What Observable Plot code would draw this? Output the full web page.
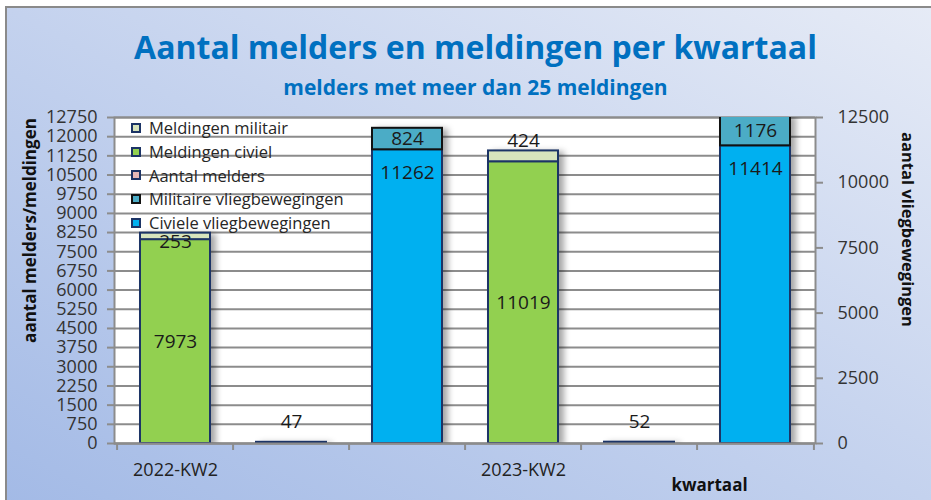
<!DOCTYPE html>
<html>
<head>
<meta charset="utf-8">
<script src="https://cdn.jsdelivr.net/npm/d3@7"></script>
<script src="https://cdn.jsdelivr.net/npm/@observablehq/plot@0.6"></script>
<style>
html, body { margin: 0; padding: 0; background: #fff; }
#page { position: relative; width: 931px; height: 500px; overflow: hidden; font-family: "Open Sans", sans-serif; }
#frame { position: absolute; left: 5px; top: 6px; right: -4px; bottom: -4px;
  border-top: 2px solid #8a8a8a; border-left: 2px solid #8a8a8a;
  background: linear-gradient(to top right, #a3bae6 0%, #c4d2ee 50%, #e6ebf6 100%); }
#title { position: absolute; left: 10px; width: 931px; top: 31px; text-align: center; margin: 0;
  font-size: 32px; line-height: 32px; font-weight: 700; color: #0070c0; }
#subtitle { position: absolute; left: 10px; width: 931px; top: 77px; text-align: center; margin: 0;
  font-size: 21px; line-height: 21px; font-weight: 700; color: #0070c0; }
#chart { position: absolute; left: 0; top: 100px; }
#legend { position: absolute; left: 131px; top: 116px; font-size: 16.5px; color: #262626; }
#legend .item { height: 23.75px; line-height: 23.75px; display: flex; align-items: center; white-space: nowrap; }
#legend .sw { width: 6px; height: 6px; border: 2px solid #1c3466; margin-right: 8px; flex: none; }
</style>
</head>
<body>
<div id="page">
  <div id="frame"></div>
  <h1 id="title">Aantal melders en meldingen per kwartaal</h1>
  <h2 id="subtitle">melders met meer dan 25 meldingen</h2>
  <div id="chart"></div>
  <div id="legend"></div>
</div>
<script>
// ---- data ----
const quarters = ["2022-KW2", "2023-KW2"];
const meldingenCiviel = [7973, 11019];
const meldingenMilitair = [253, 424];
const aantalMelders = [47, 52];
const civieleVlieg = [11262, 11414];
const militaireVlieg = [824, 1176];

const leftTicks = [0, 750, 1500, 2250, 3000, 3750, 4500, 5250, 6000, 6750, 7500, 8250, 9000, 9750, 10500, 11250, 12000, 12750];
const rightTicks = [0, 2500, 5000, 7500, 10000, 12500];

const seriesNames = ["Meldingen militair", "Meldingen civiel", "Aantal melders", "Militaire vliegbewegingen", "Civiele vliegbewegingen"];
const seriesColors = ["#d7e4bd", "#92d050", "#e6b9b8", "#4bacc6", "#00b0f0"];
const seriesStrokes = ["#1c3466", "#1c3466", "#1c3466", "#111111", "#1c3466"];

const leftMax = 12750, rightMax = 12500;
const k = leftMax / rightMax; // right axis -> left axis units

// ---- build table ----
const cats = [], catLabels = [], rows = [];
quarters.forEach((q, i) => {
  const stacks = [
    ["meldingen", [["Meldingen civiel", meldingenCiviel[i]], ["Meldingen militair", meldingenMilitair[i]]], 1],
    ["melders", [["Aantal melders", aantalMelders[i]]], 1],
    ["vliegbewegingen", [["Civiele vliegbewegingen", civieleVlieg[i]], ["Militaire vliegbewegingen", militaireVlieg[i]]], k]
  ];
  stacks.forEach(([g, segs, f], gi) => {
    const cat = q + " " + g;
    cats.push(cat);
    catLabels.push(gi === 0 ? q : "");
    let base = 0;
    segs.forEach(([s, v]) => {
      rows.push({cat, qi: i, series: s, value: v, y1: base * f, y2: (base + v) * f});
      base += v;
    });
  });
});

const W = 931, H = 400, mL = 114, mR = 116, mT = 17, mB = 57;
const step = (W - mL - mR) / cats.length;
const gray = "#8c8c8c";
const ink = "#1a1a1a";
const strokeOf = s => seriesStrokes[seriesNames.indexOf(s)];
const lbl = r => String(r.value);
const bySeries = s => rows.filter(r => r.series === s);
const titleOpts = {textAnchor: "middle", lineAnchor: "middle", fontWeight: "bold", fill: "#111"};

const plot = Plot.plot({
  width: W, height: H,
  marginLeft: mL, marginRight: mR, marginTop: mT, marginBottom: mB,
  style: {fontFamily: "'Open Sans', sans-serif", fontSize: "18px", background: "transparent", color: "#333", overflow: "visible"},
  x: {type: "band", domain: cats, paddingInner: 0.4, paddingOuter: 0.2, axis: null},
  y: {domain: [0, leftMax], axis: null},
  color: {domain: seriesNames, range: seriesColors},
  marks: [
    Plot.frame({fill: "white", stroke: gray, strokeWidth: 2}),
    Plot.gridY({ticks: leftTicks, stroke: gray, strokeOpacity: 1, strokeWidth: 2}),
    Plot.axisY({ticks: leftTicks, anchor: "left", tickSize: 7, tickPadding: 10, tickFormat: d => String(d), stroke: gray, strokeWidth: 2, fill: "#333", fontSize: 18, label: null}),
    Plot.axisY({ticks: rightTicks.map(v => v * k), anchor: "right", tickSize: 7, tickPadding: 15, tickFormat: d => String(Math.round(d / k)), stroke: gray, strokeWidth: 2, fill: "#333", fontSize: 18, label: null}),
    Plot.axisX({ticks: cats, anchor: "bottom", tickSize: 0, tickPadding: 20, tickFormat: c => catLabels[cats.indexOf(c)], fill: "#222", fontSize: 18, label: null}),
    Plot.ruleX(cats, {x: d => d, dx: -step / 2, insetTop: H - mT - mB, insetBottom: -7, stroke: gray, strokeWidth: 2}),
    Plot.ruleX(cats.slice(-1), {x: d => d, dx: step / 2, insetTop: H - mT - mB, insetBottom: -7, stroke: gray, strokeWidth: 2}),
    Plot.barY(rows, {x: "cat", y1: "y1", y2: "y2", fill: "series", stroke: r => strokeOf(r.series), strokeWidth: 2, clip: true}),
    Plot.ruleY([0], {stroke: gray, strokeWidth: 2}),
    // data labels
    Plot.text(rows.filter(r => r.series === "Meldingen civiel" || r.series === "Militaire vliegbewegingen"),
      {x: "cat", y: r => (r.y1 + r.y2) / 2, text: lbl, fontSize: 19, fill: ink}),
    Plot.text(bySeries("Civiele vliegbewegingen"), {x: "cat", y: "y2", dy: 23, text: lbl, fontSize: 19, fill: ink}),
    Plot.text(bySeries("Aantal melders"), {x: "cat", y: "y2", dy: -20, text: lbl, fontSize: 19, fill: ink}),
    Plot.text(bySeries("Meldingen militair").filter(r => r.qi === 0), {x: "cat", y: "y2", dy: 9, text: lbl, fontSize: 19, fill: ink}),
    Plot.text(bySeries("Meldingen militair").filter(r => r.qi === 1), {x: "cat", y: "y2", dy: -10, text: lbl, fontSize: 19, fill: ink}),
    // axis titles
    Plot.text(["aantal melders/meldingen"], {...titleOpts, frameAnchor: "top-left", dx: 30 - mL, dy: 130 - mT, rotate: -90, fontSize: 17}),
    Plot.text(["aantal vliegbewegingen"], {...titleOpts, frameAnchor: "top-right", dx: 907 - (W - mR), dy: 129 - mT, rotate: 90, fontSize: 16.5}),
    Plot.text(["kwartaal"], {...titleOpts, frameAnchor: "bottom-left", dx: 709 - mL, dy: 385 - (H - mB), fontSize: 17})
  ]
});

const barG = plot.querySelector('g[aria-label="bar"]');
if (barG) barG.style.filter = "drop-shadow(5px 2px 3px rgba(0,0,0,0.35))";
document.getElementById("chart").appendChild(plot);

// legend (drawn over the plot area, top-left)
const legend = d3.select("#legend");
seriesNames.forEach((s, i) => {
  const item = legend.append("div").attr("class", "item");
  item.append("span").attr("class", "sw").style("background", seriesColors[i]).style("border-color", seriesStrokes[i]);
  item.append("span").text(s);
});
</script>
</body>
</html>
